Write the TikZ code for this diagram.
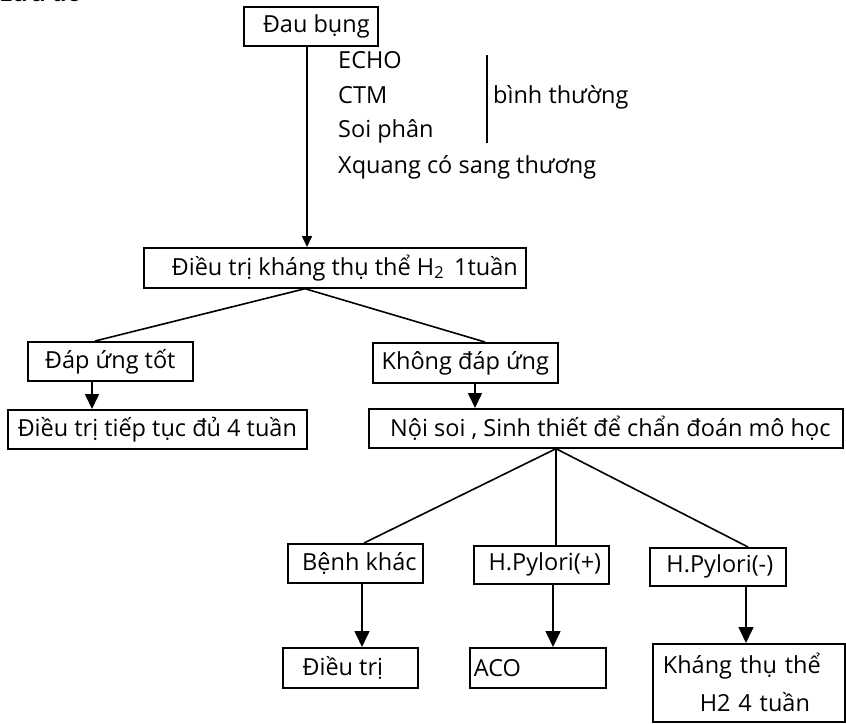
\documentclass[tikz,border=0pt]{standalone}
\usepackage{fontspec}
\setmainfont{Open Sans}
\usetikzlibrary{arrows.meta}
\begin{document}
\begin{tikzpicture}[x=1pt,y=-1pt,
  txt/.style={font=\fontsize{23.5}{28}\selectfont},
  box/.style={draw, line width=1.7pt, inner sep=0pt, anchor=north west, txt},
  plain/.style={inner sep=0pt, anchor=base west, txt},
  link/.style={line width=1.6pt},
  arr/.style={line width=1.6pt, -{Triangle[length=16pt,width=15pt]}},
  marr/.style={line width=1.6pt, -{Triangle[length=15pt,width=14pt]}},
  sarr/.style={line width=1.6pt, -{Triangle[length=11pt,width=10pt]}}]
\useasboundingbox (0,0) rectangle (846,723);
\node[plain, font=\fontsize{23.5}{28}\selectfont\bfseries] (title) at (-1,1) {Lưu đồ};
% boxes
\node[box, minimum width=134pt, minimum height=39pt] (dau) at (243,6) {\hspace*{11pt}Đau bụng};
\node[box, minimum width=382pt, minimum height=40pt] (h2) at (143,247) {\hspace*{20pt}Điều trị kháng thụ thể H\textsubscript{2}\hspace{10pt}1tuần};
\node[box, minimum width=165pt, minimum height=39pt] (tot) at (27,341) {Đáp ứng tốt};
\node[box, minimum width=299pt, minimum height=39pt] (tiep) at (7,409) {Điều trị tiếp tục đủ 4 tuần};
\node[box, minimum width=185pt, minimum height=40pt] (khong) at (372,342) {Không đáp ứng};
\node[box, minimum width=474pt, minimum height=39pt] (noisoi) at (368,408) {\hspace*{9pt}Nội soi , Sinh thiết để chẩn đoán mô học};
\node[box, minimum width=135pt, minimum height=39pt] (benh) at (287,543) {\hspace*{8pt}Bệnh khác};
\node[box, minimum width=135pt, minimum height=38pt] (hpp) at (473,545) {\hspace*{7pt}H.Pylori(+)};
\node[box, minimum width=136pt, minimum height=38pt] (hpm) at (649,547) {\hspace*{4pt}H.Pylori(-)};
\node[box, minimum width=135pt, minimum height=40pt] (dieutri) at (282,647) {Điều trị\hspace*{15pt}};
\node[box, minimum width=136pt, minimum height=40pt, text width=128pt, inner xsep=4pt, align=left] (aco) at (469,647) {ACO};
\node[box, minimum width=192pt, minimum height=78pt, text width=172pt, inner xsep=10pt, align=left,
      font=\fontsize{23.5}{38}\selectfont] (khang) at (652,643) {Kháng thụ thể\\\hspace*{37pt}H2 4 tuần};
% side texts
\node[plain] (echo) at (338,68) {ECHO};
\node[plain] (ctm) at (338,103) {CTM};
\node[plain] (soi) at (338,137) {Soi phân};
\node[plain] (xq) at (338,173) {Xquang có sang thương};
\node[plain] (binh) at (493,103) {bình thường};
\coordinate (bartop) at (487,55);
\coordinate (barbot) at (487,143);
\draw[line width=1.6pt] (bartop) -- (barbot);
% x positions
\coordinate (xs) at (307,0);
\coordinate (xh) at (305,0);
\coordinate (xl) at (95,0);
\coordinate (xr) at (485,0);
\coordinate (xa) at (92,0);
\coordinate (xb) at (475,0);
\coordinate (xf) at (556,0);
\coordinate (x1) at (364,0);
\coordinate (x3) at (748,0);
\coordinate (d1) at (362,0);
\coordinate (d2) at (553,0);
\coordinate (d3) at (746,0);
% connectors
\draw[sarr] (dau.south -| xs) -- (h2.north -| xs);
\draw[link] (h2.south -| xh) -- (tot.north -| xl);
\draw[link] (h2.south -| xh) -- (khong.north -| xr);
\draw[marr] (tot.south -| xa) -- (tiep.north -| xa);
\draw[marr] (khong.south -| xb) -- (noisoi.north -| xb);
\draw[link] (noisoi.south -| xf) -- (benh.north -| x1);
\draw[link] (noisoi.south -| xf) -- (hpp.north -| xf);
\draw[link] (noisoi.south -| xf) -- (hpm.north -| x3);
\draw[arr] (benh.south -| d1) -- (dieutri.north -| d1);
\draw[arr] (hpp.south -| d2) -- (aco.north -| d2);
\draw[arr] (hpm.south -| d3) -- (khang.north -| d3);
\end{tikzpicture}
\end{document}
